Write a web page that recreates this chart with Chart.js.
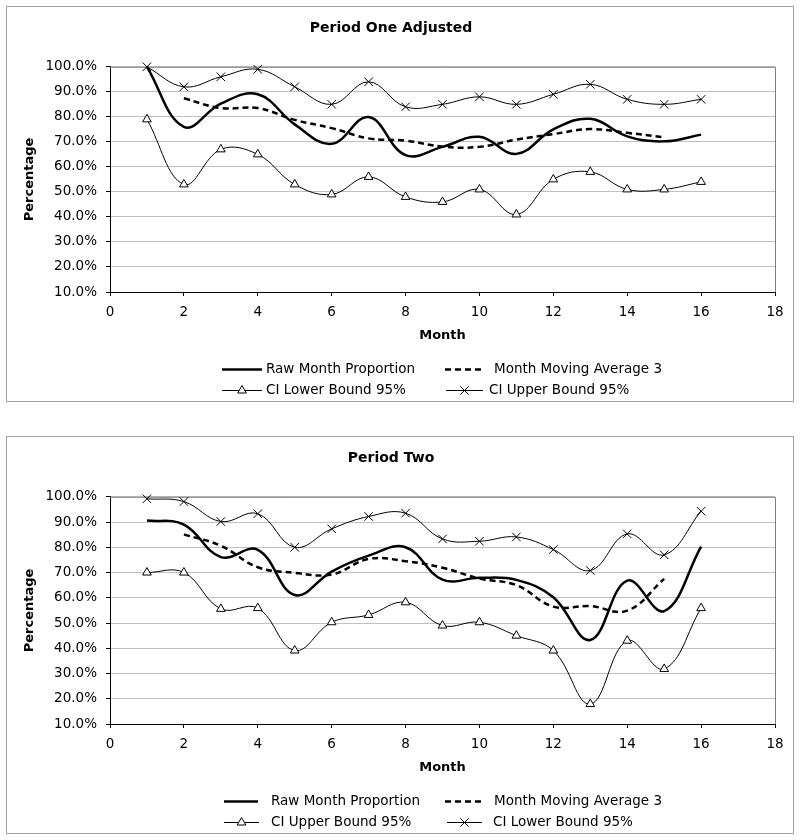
<!DOCTYPE html>
<html>
<head>
<meta charset="utf-8">
<script src="https://cdn.jsdelivr.net/npm/chart.js@4/dist/chart.umd.min.js"></script>
<style>
  body { margin: 0; background: #fff; }
  .box { position: absolute; left: 6px; width: 786px; border: 1px solid #a0a0a0; background: #fff; }
  .box canvas { display: block; }
</style>
</head>
<body>
<div class="box" style="top:6px;height:394px"><canvas id="chartOne" width="786" height="394"></canvas></div>
<div class="box" style="top:436px;height:396px"><canvas id="chartTwo" width="786" height="396"></canvas></div>
<script>
// Month numbers on the x axis
const months = [1, 2, 3, 4, 5, 6, 7, 8, 9, 10, 11, 12, 13, 14, 15, 16];
const xTicks = [0, 2, 4, 6, 8, 10, 12, 14, 16, 18];
const yTicks = [10, 20, 30, 40, 50, 60, 70, 80, 90, 100];

// Period One Adjusted (percent)
const p1Raw   = [100, 76, 85.3, 89, 77, 69.2, 79.9, 64.7, 68, 72, 65.2, 75, 79.2, 72.2, 70.2, 72.9];
const p1Avg   = [null, 87.4, 83.5, 83.5, 78.8, 75.5, 71.4, 70.5, 68.1, 68, 70.9, 73.1, 75.1, 73.6, 71.8, null];
const p1Lower = [79, 53, 67, 65, 53, 49, 56, 48, 46, 51, 41, 55, 58, 51, 51, 54];
const p1Upper = [100, 92, 96, 99, 92, 85, 94, 84, 85, 88, 85, 89, 93, 87, 85, 87];

// Period Two (percent) - legend names as in the source
const p2Raw   = [90.6, 89, 76.1, 79, 61.1, 70.4, 76.7, 80, 67.2, 67.9, 67.1, 60.2, 43.3, 66.8, 54.7, 80.3];
const p2Avg   = [null, 85.1, 80.6, 72.1, 69.9, 69.2, 75.4, 74.5, 71.9, 67.6, 65, 56.5, 56.7, 54.9, 67.5, null];
const p2Tri   = [70, 70, 55.6, 55.9, 39.1, 50.3, 53.2, 58.2, 49, 50.3, 45, 39.1, 17.9, 43, 31.8, 55.9];
const p2Cross = [99.2, 98.1, 90.2, 93.3, 80, 87.3, 92.2, 93.5, 83.3, 82.4, 84.1, 79.1, 70.8, 85.3, 77, 94.3];

Chart.defaults.font.family = "'DejaVu Sans', Verdana, sans-serif";
Chart.defaults.color = '#000';

const toPoints = arr => months.map((m, i) => ({ x: m, y: arr[i] })).filter(p => p.y !== null);

const rawStyle = { borderColor: '#000', borderWidth: 2.5, pointRadius: 0, tension: 0.4, clip: false };
const avgStyle = { borderColor: '#000', borderWidth: 2.5, borderDash: [6, 4], pointRadius: 0, tension: 0.4, clip: false };
const triStyle = { borderColor: '#000', borderWidth: 1, pointStyle: 'triangle', pointRadius: 5,
  pointBackgroundColor: '#fff', pointBorderColor: '#000', pointBorderWidth: 1, tension: 0.4, clip: false };
const crossStyle = { borderColor: '#000', borderWidth: 1, pointStyle: 'crossRot', pointRadius: 6,
  pointBorderColor: '#000', pointBorderWidth: 1, tension: 0.4, clip: false };

// marker for the legend samples
function drawMarker(ctx, style, x, y) {
  ctx.save();
  ctx.lineWidth = 1;
  ctx.strokeStyle = '#000';
  ctx.setLineDash([]);
  if (style === 'triangle') {
    const r = 5;
    ctx.beginPath();
    ctx.moveTo(x, y - r);
    ctx.lineTo(x + r * 0.866, y + r * 0.5);
    ctx.lineTo(x - r * 0.866, y + r * 0.5);
    ctx.closePath();
    ctx.fillStyle = '#fff';
    ctx.fill();
    ctx.stroke();
  } else if (style === 'crossRot') {
    const d = 4.2;
    ctx.beginPath();
    ctx.moveTo(x - d, y - d); ctx.lineTo(x + d, y + d);
    ctx.moveTo(x + d, y - d); ctx.lineTo(x - d, y + d);
    ctx.stroke();
  }
  ctx.restore();
}

// plot frame (grey top/right) and the 2x2 legend under the axis
const framePlugin = {
  id: 'frameLegend',
  beforeDatasetsDraw(chart) {
    const { ctx, chartArea: a } = chart;
    ctx.save();
    ctx.strokeStyle = '#808080';
    ctx.lineWidth = 1;
    ctx.beginPath();
    ctx.moveTo(a.left, a.top + 0.5);
    ctx.lineTo(a.right + 0.5, a.top + 0.5);
    ctx.lineTo(a.right + 0.5, a.bottom);
    ctx.stroke();
    ctx.restore();
  },
  afterDraw(chart, args, opts) {
    const { ctx, chartArea: a } = chart;
    const rows = [a.bottom + 76.5, a.bottom + 98];
    chart.data.datasets.forEach((ds, i) => {
      const slot = opts.slots[i];
      const y = Math.round(rows[slot.row]) + 0.5;
      ctx.save();
      ctx.strokeStyle = '#000';
      ctx.lineWidth = ds.borderWidth;
      ctx.setLineDash(ds.borderDash || []);
      ctx.beginPath();
      ctx.moveTo(slot.x1, y);
      ctx.lineTo(slot.x2, y);
      ctx.stroke();
      ctx.restore();
      if (ds.pointStyle) drawMarker(ctx, ds.pointStyle, (slot.x1 + slot.x2) / 2, y);
      ctx.save();
      ctx.font = "13.5px 'DejaVu Sans', Verdana, sans-serif";
      ctx.fillStyle = '#000';
      ctx.textBaseline = 'middle';
      ctx.fillText(ds.label, slot.tx, y);
      ctx.restore();
    });
  }
};

function makeChart(id, title, datasets, slots) {
  return new Chart(document.getElementById(id), {
    type: 'line',
    data: { datasets },
    options: {
      responsive: false,
      animation: false,
      layout: { padding: { top: 0, right: 18, bottom: 54, left: 0 } },
      plugins: {
        legend: { display: false },
        tooltip: { enabled: false },
        title: {
          display: true, text: title,
          font: { size: 14, weight: 'bold' },
          padding: { top: 12.5, bottom: 30.5 }
        },
        frameLegend: { slots }
      },
      scales: {
        x: {
          type: 'linear', min: 0, max: 18,
          afterBuildTicks: s => { s.ticks = xTicks.map(v => ({ value: v })); },
          afterFit: s => { s.height = 55; },
          grid: { drawOnChartArea: false, tickLength: 4, color: '#000' },
          border: { color: '#000' },
          ticks: { font: { size: 13.5 }, padding: 8, maxRotation: 0 },
          title: { display: true, text: 'Month', font: { size: 13, weight: 'bold' }, padding: { top: 0, bottom: 4 } }
        },
        y: {
          min: 10, max: 100,
          afterBuildTicks: s => { s.ticks = yTicks.map(v => ({ value: v })); },
          afterFit: s => { s.width = 103; },
          grid: { color: '#c0c0c0', tickColor: '#000', tickLength: 4 },
          border: { color: '#000' },
          ticks: { font: { size: 13.5 }, padding: 9, callback: v => v.toFixed(1) + '%' },
          title: { display: true, text: 'Percentage', font: { size: 13, weight: 'bold' }, padding: { top: 15, bottom: 0 } }
        }
      }
    },
    plugins: [framePlugin]
  });
}

makeChart('chartOne', 'Period One Adjusted', [
  { label: 'Raw Month Proportion', data: toPoints(p1Raw), ...rawStyle },
  { label: 'Month Moving Average 3', data: toPoints(p1Avg), ...avgStyle },
  { label: 'CI Lower Bound 95%', data: toPoints(p1Lower), ...triStyle },
  { label: 'CI Upper Bound 95%', data: toPoints(p1Upper), ...crossStyle }
], [
  { row: 0, x1: 215, x2: 255, tx: 259 },
  { row: 0, x1: 438, x2: 475, tx: 487 },
  { row: 1, x1: 215, x2: 255, tx: 259 },
  { row: 1, x1: 439, x2: 476, tx: 482 }
]);

makeChart('chartTwo', 'Period Two', [
  { label: 'Raw Month Proportion', data: toPoints(p2Raw), ...rawStyle },
  { label: 'Month Moving Average 3', data: toPoints(p2Avg), ...avgStyle },
  { label: 'CI Upper Bound 95%', data: toPoints(p2Tri), ...triStyle },
  { label: 'CI Lower Bound 95%', data: toPoints(p2Cross), ...crossStyle }
], [
  { row: 0, x1: 217, x2: 251, tx: 264 },
  { row: 0, x1: 438, x2: 475, tx: 487 },
  { row: 1, x1: 217, x2: 252, tx: 264 },
  { row: 1, x1: 440, x2: 475, tx: 486 }
]);
</script>
</body>
</html>
